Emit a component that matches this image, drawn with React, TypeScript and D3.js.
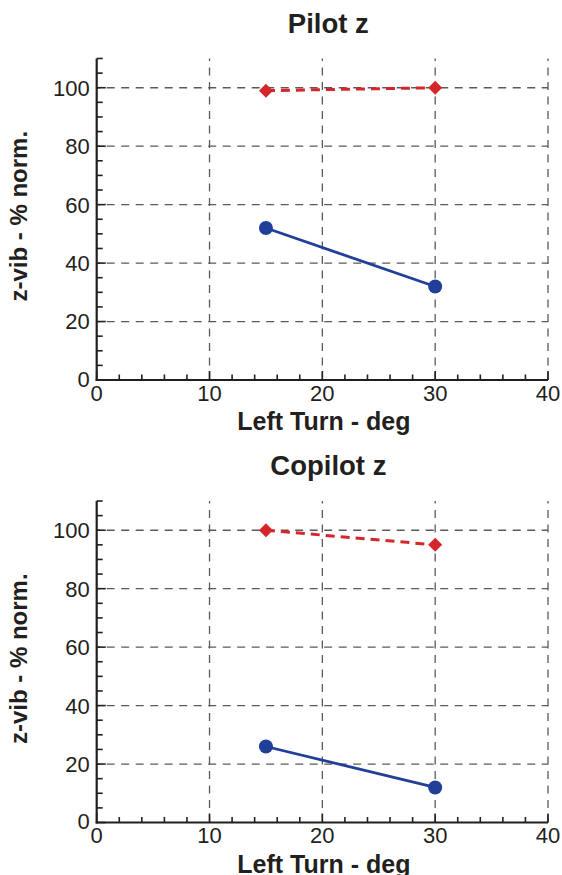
import React from "react";
import { scaleLinear, line, range } from "d3";

// values
const turnDeg = [15, 30];
const pilotDiamond = [99, 100];
const pilotCircle = [52, 32];
const copilotDiamond = [100, 95];
const copilotCircle = [26, 12];

const panels = [
  { title: "Pilot z", diamond: pilotDiamond, circle: pilotCircle, top: 58.5 },
  { title: "Copilot z", diamond: copilotDiamond, circle: copilotCircle, top: 501 }
];

const xTicks = [0, 10, 20, 30, 40];
const yTicks = [0, 20, 40, 60, 80, 100];

const W = 562;
const H = 875;
const left = 96.7;
const right = 548;
const plotH = 321.5;

const red = "#d4262b";
const blue = "#213f98";
const axisColor = "#231f20";
const font = "'Liberation Sans', Arial, Helvetica, sans-serif";

function Panel({ title, diamond, circle, top }) {
  const x = scaleLinear().domain([0, 40]).range([left, right]);
  const y = scaleLinear().domain([0, 110]).range([top + plotH, top]);
  const bottom = y(0);

  const pts = (vals) => turnDeg.map((d, i) => [x(d), y(vals[i])]);
  const path = line();

  return (
    <g>
      <text x={(left + right) / 2 + 6} y={top - 26} textAnchor="middle" fontFamily={font}
        fontWeight="bold" fontSize={27.5} fill={axisColor}>{title}</text>

      {/* grid */}
      {yTicks.filter(t => t > 0).map(t => (
        <line key={"gy" + t} x1={left} x2={right} y1={y(t)} y2={y(t)}
          stroke="#5a5a5a" strokeWidth={1.3} strokeDasharray="8 6.5" strokeDashoffset={-10} />
      ))}
      {xTicks.filter(t => t > 0).map(t => (
        <line key={"gx" + t} x1={x(t)} x2={x(t)} y1={bottom} y2={top}
          stroke="#5a5a5a" strokeWidth={1.3} strokeDasharray="8 6.5" />
      ))}

      {/* minor/major ticks */}
      {range(0, 111, 5).map(t => (
        <line key={"ty" + t} x1={left} x2={left + (t % 20 === 0 && t <= 100 ? 9 : 6)}
          y1={y(t)} y2={y(t)} stroke={axisColor} strokeWidth={1.6} />
      ))}
      {range(0, 41, 2).map(t => (
        <line key={"tx" + t} x1={x(t)} x2={x(t)} y1={bottom}
          y2={bottom - (t % 10 === 0 ? 9 : 5.5)} stroke={axisColor} strokeWidth={1.6} />
      ))}

      {/* axes */}
      <line x1={left} x2={left} y1={top} y2={bottom + 1} stroke={axisColor} strokeWidth={2.2} />
      <line x1={left - 1} x2={right} y1={bottom} y2={bottom} stroke={axisColor} strokeWidth={2.2} />

      {/* tick labels */}
      {yTicks.map(t => (
        <text key={"ly" + t} x={left - 7} y={t === 0 ? y(t) - 1 : y(t)} dy="0.36em" textAnchor="end"
          fontFamily={font} fontSize={22} fill={axisColor}>{t}</text>
      ))}
      {xTicks.map(t => (
        <text key={"lx" + t} x={x(t)} y={bottom + 20.5} textAnchor="middle"
          fontFamily={font} fontSize={22} fill={axisColor}>{t}</text>
      ))}

      <text x={(left + right) / 2 + 1.5} y={bottom + 50} textAnchor="middle" fontFamily={font}
        fontWeight="bold" fontSize={25} fill={axisColor}>Left Turn - deg</text>
      <text transform={`translate(27,${(top + bottom) / 2 - 3}) rotate(-90)`} textAnchor="middle"
        fontFamily={font} fontWeight="bold" fontSize={24} fill={axisColor}>z-vib - % norm.</text>

      {/* series */}
      <path d={path(pts(diamond))} fill="none" stroke={red} strokeWidth={3} strokeDasharray="9 6" />
      {pts(diamond).map(([px, py], i) => (
        <path key={"d" + i} d={`M${px},${py - 7}L${px + 7},${py}L${px},${py + 7}L${px - 7},${py}Z`} fill={red} />
      ))}
      <path d={path(pts(circle))} fill="none" stroke={blue} strokeWidth={2.8} />
      {pts(circle).map(([px, py], i) => (
        <circle key={"c" + i} cx={px} cy={py} r={7} fill={blue} />
      ))}
    </g>
  );
}

export default function App() {
  return (
    <svg width={W} height={H} style={{ position: "absolute", left: 0, top: 0, background: "#fff" }}>
      {panels.map(p => (
        <Panel key={p.title} {...p} />
      ))}
    </svg>
  );
}
